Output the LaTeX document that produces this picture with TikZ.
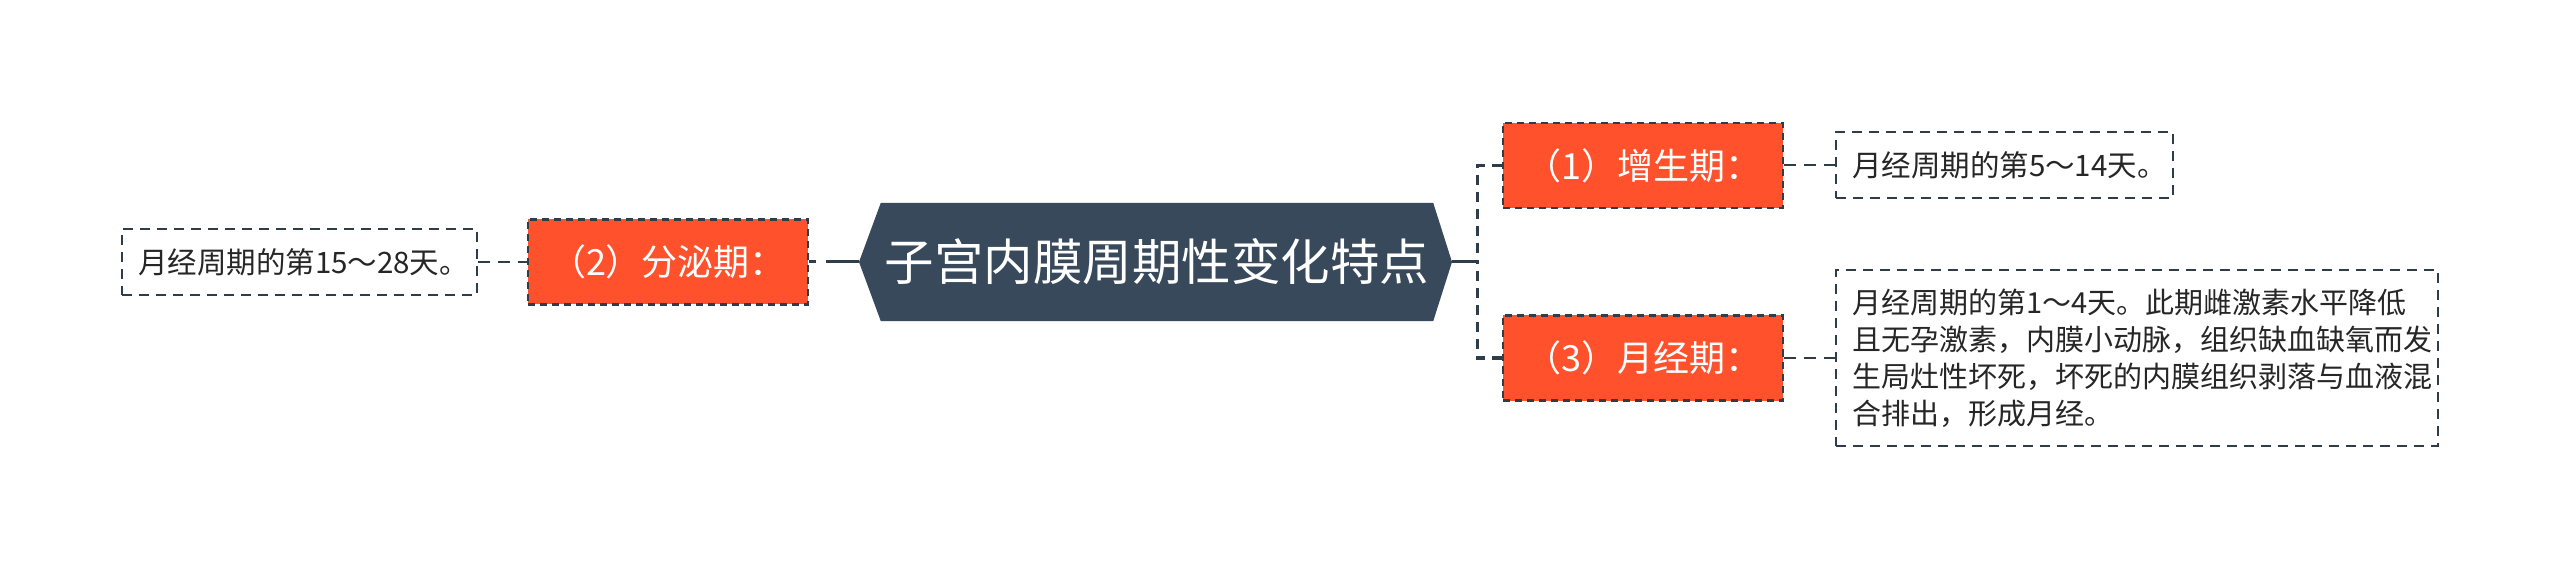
\documentclass[tikz,border=0pt]{standalone}
\usepackage{fontspec}
\setmainfont{Noto Sans CJK SC}
\usetikzlibrary{backgrounds,calc}
\definecolor{orangec}{HTML}{FF512C}
\definecolor{darkc}{HTML}{37495A}
\definecolor{linec}{HTML}{2F3D4A}
\tikzset{
 leafbox/.style={draw=linec, line width=2pt, dash pattern=on 10pt off 7pt, fill=white, text=black!85, inner xsep=16pt, inner ysep=0pt, minimum height=66pt, font=\fontsize{29.5}{37}\selectfont, align=left, anchor=center},
 subbox/.style={draw=linec, line width=2.5pt, dash pattern=on 7pt off 5pt, fill=orangec, text=white, minimum width=280pt, minimum height=85pt, inner sep=0pt, font=\fontsize{36}{42}\selectfont},
 rootbox/.style={minimum width=552pt, minimum height=118pt, inner sep=0pt, text=white, font=\fontsize{49.5}{58}\selectfont},
 conn/.style={draw=linec, line width=2pt, dash pattern=on 12pt off 8pt},
 rootconn/.style={draw=linec, line width=3pt},
 bracket/.style={draw=linec, line width=3pt, dash pattern=on 10pt off 7pt},
}
\begin{document}
\begin{tikzpicture}[x=1pt,y=-1pt]
\useasboundingbox (0,0) rectangle (2560,569);
\node[rootbox] (hex) at (1157,262) {子宫内膜周期性变化特点};
\coordinate (hexL) at (859,262);
\coordinate (hexR) at (1452,262);
\coordinate (br) at (1477,262);
\begin{pgfonlayer}{background}
\fill[white] (0,0) rectangle (2560,569);
\fill[darkc] (hex.north west) -- (hex.north east) -- (hexR) -- (hex.south east) -- (hex.south west) -- (hexL) -- cycle;
\end{pgfonlayer}
\node[subbox] (o2) at (668,262) {（2）分泌期：};
\node[leafbox, text width=323pt] (g2) at (299.5,262) {月经周期的第15～28天。};
\node[subbox] (o1) at (1643,165.5) {（1）增生期：};
\node[subbox] (o3) at (1643,358) {（3）月经期：};
\node[leafbox, text width=305pt] (g1) at (2004.5,165.5) {月经周期的第5～14天。};
\node[leafbox, text width=570pt, minimum height=176pt, font=\fontsize{29}{37}\selectfont] (g3) at (2137,358) {月经周期的第1～4天。此期雌激素水平降低\\且无孕激素，内膜小动脉，组织缺血缺氧而发\\生局灶性坏死，坏死的内膜组织剥落与血液混\\合排出，形成月经。};
\draw[conn] (g2.east) -- (o2.west);
\draw[linec, line width=3pt, dash pattern=on 7pt off 10pt on 60pt off 0pt] (o2.east) -- (hexL);
\draw[rootconn] (hexR) -- (br);
\draw[bracket] (o1.west) -| (br);
\draw[bracket] (o3.west) -| (br);
\draw[conn] (o1.east) -- (g1.west);
\draw[conn] (o3.east) -- (g3.west);
\end{tikzpicture}
\end{document}
